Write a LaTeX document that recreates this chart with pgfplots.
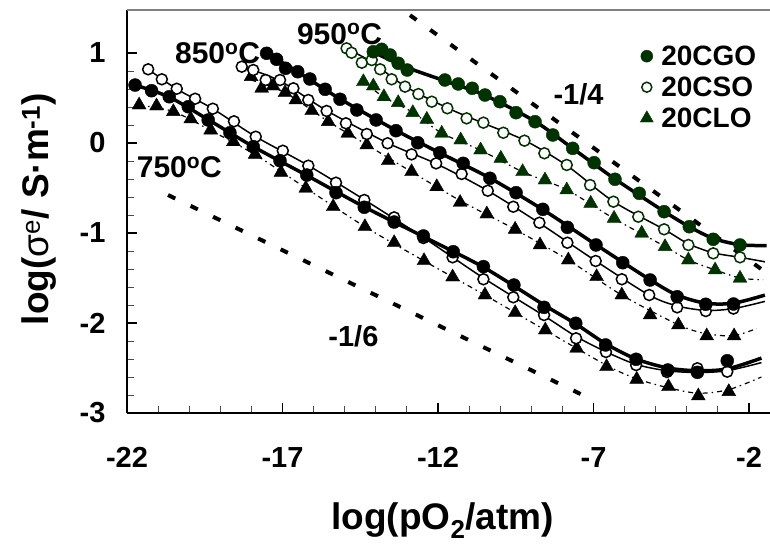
\documentclass[border=0pt]{standalone}
\usepackage{fontspec}
\setmainfont{Liberation Sans}
\usepackage{pgfplots}
\pgfplotsset{compat=1.18}
\definecolor{dkgreen}{RGB}{0,51,0}
\begin{document}
\begin{tikzpicture}
\useasboundingbox (-127pt,-131pt) rectangle (643pt,413pt);
\begin{axis}[
  at={(0pt,0pt)}, anchor=south west,
  scale only axis, width=643pt, height=403pt,
  xmin=-22, xmax=-1.325, ymin=-3, ymax=1.478,
  axis lines*=left,
  axis line style={line width=1.5pt, black},
  tick align=inside,
  xtick={-22,-17,-12,-7,-2}, xticklabels={-22,-17,-12,-7,-2},
  ytick={-3,-2,-1,0,1}, yticklabels={-3,-2,-1,0,1},
  minor x tick num=4, minor y tick num=4,
  major tick length=10pt, minor tick length=7pt,
  major tick style={line width=1.3pt, black},
  minor tick style={line width=1pt, black!70},
  tick label style={font=\fontsize{29}{29}\selectfont\bfseries},
  xticklabel style={yshift=-31pt},
  yticklabel style={xshift=-18pt},
  xlabel={log(pO\textsubscript{2}/atm)},
  xlabel style={at={(axis description cs:0.491,-0.288)}, anchor=base, font=\fontsize{37}{37}\selectfont\bfseries},
  ylabel={log(\textmd{σ\textsuperscript{e}}/ S·m\textsuperscript{-1})},
  ylabel style={at={(axis description cs:-0.1213,0.506)}, anchor=base, font=\fontsize{37}{37}\selectfont\bfseries},
  clip=false,
  legend style={at={(axis description cs:0.798,0.917)}, anchor=north west, draw=none, fill=none,
    font=\fontsize{28}{28}\selectfont\bfseries, row sep=6pt, column sep=6pt, inner sep=0pt, nodes={inner sep=2pt}},
  legend cell align=left,
]
\addlegendimage{only marks, mark=*, mark size=6pt, dkgreen}
\addlegendentry{20CGO}
\addlegendimage{only marks, mark=*, mark size=5pt, mark options={fill=white, draw=dkgreen, line width=1.5pt}}
\addlegendentry{20CSO}
\addlegendimage{only marks, mark=triangle*, mark size=7.5pt, dkgreen}
\addlegendentry{20CLO}

% reference slopes
\addplot[forget plot, black, line width=4pt, dash pattern=on 8pt off 17pt] coordinates {(-12.9,1.42)(-1.49,-1.43)};
\addplot[forget plot, black, line width=4pt, dash pattern=on 8pt off 17pt] coordinates {(-20.68,-0.578)(-7.05,-2.85)};

% ---- 750 C lines
\addplot[forget plot, black, line width=1.2pt, smooth, dash pattern=on 5pt off 4pt on 1.5pt off 4pt] coordinates {(-21.61,0.42)(-20.51,0.35)(-19.31,0.14)(-17.88,-0.13)(-16.25,-0.50)(-14.35,-0.93)(-12.45,-1.31)(-10.49,-1.69)(-8.55,-2.08)(-6.58,-2.47)(-5.61,-2.62)(-4.59,-2.72)(-3.63,-2.78)(-2.65,-2.74)(-1.6,-2.60)};
\addplot[forget plot, black, line width=1.5pt, smooth] coordinates {(-21.32,0.82)(-20.40,0.60)(-19.24,0.38)(-17.86,0.07)(-16.17,-0.25)(-14.37,-0.63)(-12.47,-1.05)(-10.54,-1.50)(-8.59,-1.92)(-7.56,-2.15)(-6.60,-2.32)(-5.63,-2.46)(-4.64,-2.53)(-3.66,-2.55)(-2.70,-2.53)(-1.6,-2.44)};
\addplot[forget plot, black, line width=3.5pt, smooth] coordinates {(-21.74,0.644)(-20.64,0.51)(-19.39,0.26)(-17.94,-0.04)(-16.22,-0.36)(-14.37,-0.71)(-12.47,-1.04)(-10.54,-1.38)(-8.59,-1.80)(-7.57,-2.01)(-6.61,-2.23)(-5.63,-2.40)(-4.61,-2.50)(-3.66,-2.53)(-2.70,-2.51)(-1.6,-2.39)};
% ---- 850 C lines
\addplot[forget plot, black, line width=1.2pt, smooth, dash pattern=on 5pt off 4pt on 1.5pt off 4pt] coordinates {(-18.01,0.70)(-16.92,0.56)(-15.53,0.24)(-14.29,-0.02)(-12.85,-0.32)(-11.29,-0.64)(-9.52,-0.96)(-7.81,-1.30)(-6.09,-1.69)(-4.27,-2.02)(-3.36,-2.12)(-2.48,-2.14)(-1.75,-2.06)};
\addplot[forget plot, black, line width=1.5pt, smooth] coordinates {(-18.31,0.85)(-17.08,0.69)(-15.58,0.36)(-13.62,0.00)(-12.06,-0.23)(-10.40,-0.53)(-8.74,-0.89)(-6.93,-1.31)(-5.21,-1.69)(-4.31,-1.81)(-3.39,-1.86)(-2.50,-1.84)(-1.49,-1.76)};
\addplot[forget plot, black, line width=3.5pt, smooth] coordinates {(-17.51,1.00)(-16.51,0.79)(-15.15,0.49)(-13.35,0.14)(-11.94,-0.11)(-10.33,-0.39)(-8.63,-0.74)(-6.92,-1.13)(-5.18,-1.52)(-4.31,-1.69)(-3.39,-1.78)(-2.50,-1.78)(-1.49,-1.69)};
% ---- 950 C lines
\addplot[forget plot, black, line width=1.2pt, smooth, dash pattern=on 5pt off 4pt on 1.5pt off 4pt] coordinates {(-14.40,0.68)(-13.74,0.51)(-12.81,0.34)(-11.88,0.11)(-10.63,-0.08)(-9.28,-0.32)(-7.86,-0.52)(-6.34,-0.84)(-4.70,-1.15)(-3.95,-1.30)(-3.09,-1.41)(-2.29,-1.50)(-1.55,-1.52)};
\addplot[forget plot, black, line width=1.5pt, smooth] coordinates {(-14.94,1.05)(-14.13,0.90)(-13.06,0.63)(-11.70,0.39)(-10.54,0.22)(-9.22,0.03)(-7.86,-0.25)(-6.36,-0.65)(-4.73,-0.96)(-3.95,-1.12)(-3.15,-1.22)(-2.29,-1.27)(-1.49,-1.32)};
\addplot[forget plot, black, line width=3.5pt, smooth] coordinates {(-14.08,1.01)(-13.0,0.84)(-11.78,0.69)(-10.49,0.53)(-8.88,0.24)(-7.67,-0.06)(-6.31,-0.40)(-4.73,-0.76)(-3.92,-0.93)(-3.15,-1.06)(-2.29,-1.13)(-1.43,-1.14)};

% ---- markers 750
\addplot[forget plot, only marks, mark=triangle*, mark size=8pt, black] coordinates {(-21.61,0.422)(-21.05,0.411)(-20.51,0.348)(-19.95,0.267)(-19.31,0.144)(-18.58,0.014)(-17.88,-0.126)(-17.05,-0.326)(-16.25,-0.503)(-15.37,-0.708)(-14.35,-0.930)(-13.41,-1.108)(-12.45,-1.308)(-11.53,-1.489)(-10.49,-1.689)(-9.52,-1.886)(-8.55,-2.078)(-7.54,-2.281)(-6.58,-2.486)(-5.61,-2.626)(-4.59,-2.708)(-3.63,-2.811)(-2.65,-2.763)};
\addplot[forget plot, only marks, mark=*, mark size=5.5pt, mark options={fill=white, draw=black, line width=1.5pt}] coordinates {(-21.32,0.819)(-20.88,0.708)(-20.40,0.603)(-19.81,0.492)(-19.24,0.381)(-18.56,0.241)(-17.86,0.070)(-16.99,-0.086)(-16.17,-0.252)(-15.28,-0.441)(-14.37,-0.633)(-13.41,-0.826)(-12.47,-1.056)(-11.53,-1.270)(-10.54,-1.514)(-9.58,-1.714)(-8.59,-1.911)(-7.56,-2.170)(-6.60,-2.322)(-5.63,-2.467)(-4.64,-2.544)(-3.66,-2.503)(-2.70,-2.541)};
\addplot[forget plot, only marks, mark=*, mark size=6.5pt, black] coordinates {(-21.74,0.644)(-21.21,0.581)(-20.64,0.514)(-20.03,0.403)(-19.39,0.256)(-18.69,0.114)(-17.94,-0.041)(-17.08,-0.197)(-16.22,-0.356)(-15.28,-0.552)(-14.37,-0.714)(-13.41,-0.878)(-12.47,-1.033)(-11.51,-1.208)(-10.54,-1.374)(-9.56,-1.578)(-8.59,-1.826)(-7.57,-2.003)(-6.61,-2.244)(-5.63,-2.403)(-4.61,-2.522)(-3.66,-2.548)(-2.70,-2.419)};
% ---- markers 850
\addplot[forget plot, only marks, mark=triangle*, mark size=8pt, black] coordinates {(-18.01,0.737)(-17.67,0.608)(-17.30,0.633)(-16.92,0.559)(-16.57,0.478)(-16.06,0.359)(-15.53,0.237)(-14.90,0.108)(-14.29,-0.022)(-13.60,-0.197)(-12.85,-0.319)(-12.04,-0.486)(-11.29,-0.661)(-10.43,-0.789)(-9.52,-0.959)(-8.72,-1.133)(-7.81,-1.300)(-6.90,-1.486)(-6.09,-1.689)(-5.18,-1.911)(-4.27,-2.022)(-3.36,-2.144)(-2.48,-2.144)};
\addplot[forget plot, only marks, mark=*, mark size=5.5pt, mark options={fill=white, draw=black, line width=1.5pt}] coordinates {(-18.31,0.848)(-17.94,0.811)(-17.54,0.700)(-17.08,0.700)(-16.65,0.608)(-16.17,0.478)(-15.58,0.356)(-14.96,0.219)(-14.29,0.100)(-13.62,-0.003)(-12.85,-0.126)(-12.06,-0.226)(-11.24,-0.344)(-10.40,-0.530)(-9.58,-0.708)(-8.74,-0.886)(-7.84,-1.108)(-6.93,-1.311)(-6.09,-1.514)(-5.21,-1.689)(-4.31,-1.826)(-3.39,-1.867)(-2.50,-1.84)};
\addplot[forget plot, only marks, mark=*, mark size=6.5pt, black] coordinates {(-17.51,0.997)(-17.19,0.930)(-16.90,0.830)(-16.51,0.792)(-16.12,0.711)(-15.63,0.597)(-15.15,0.486)(-14.61,0.367)(-13.99,0.256)(-13.35,0.137)(-12.65,0.003)(-11.94,-0.108)(-11.19,-0.226)(-10.33,-0.392)(-9.49,-0.552)(-8.63,-0.737)(-7.84,-0.937)(-6.92,-1.133)(-6.06,-1.330)(-5.18,-1.522)(-4.31,-1.708)(-3.39,-1.792)(-2.50,-1.789)};
% ---- markers 950
\addplot[forget plot, only marks, mark=triangle*, mark size=8pt, dkgreen] coordinates {(-14.40,0.681)(-14.08,0.633)(-13.74,0.514)(-13.28,0.448)(-12.81,0.337)(-12.36,0.263)(-11.88,0.108)(-11.27,0.033)(-10.63,-0.078)(-9.98,-0.170)(-9.28,-0.319)(-8.56,-0.411)(-7.86,-0.522)(-7.09,-0.670)(-6.34,-0.837)(-5.45,-1.003)(-4.70,-1.152)(-3.95,-1.300)(-3.09,-1.411)(-2.29,-1.503)};
\addplot[forget plot, only marks, mark=*, mark size=5.5pt, mark options={fill=white, draw=dkgreen, line width=1.5pt}] coordinates {(-14.94,1.052)(-14.78,1.003)(-14.45,0.892)(-14.13,0.922)(-13.86,0.819)(-13.49,0.708)(-13.06,0.626)(-12.63,0.544)(-12.20,0.459)(-11.70,0.386)(-11.08,0.274)(-10.54,0.226)(-9.90,0.114)(-9.22,0.026)(-8.58,-0.114)(-7.86,-0.244)(-7.11,-0.467)(-6.36,-0.652)(-5.56,-0.819)(-4.73,-0.959)(-3.95,-1.133)(-3.15,-1.226)(-2.29,-1.270)};
\addplot[forget plot, only marks, mark=*, mark size=6.5pt, dkgreen] coordinates {(-14.08,1.014)(-13.81,1.041)(-13.54,0.978)(-13.28,0.886)(-12.99,0.811)(-11.78,0.700)(-11.35,0.656)(-10.90,0.608)(-10.49,0.533)(-10.01,0.459)(-9.49,0.337)(-8.88,0.237)(-8.31,0.089)(-7.67,-0.059)(-6.98,-0.219)(-6.31,-0.403)(-5.53,-0.559)(-4.73,-0.763)(-3.92,-0.930)(-3.15,-1.070)(-2.29,-1.133)};

% frame top line
\draw[gray, line width=1.5pt] (rel axis cs:0,1) -- (rel axis cs:1,1);

% annotations
\node[anchor=base west, inner sep=0pt, font=\fontsize{30}{30}\selectfont\bfseries] at (axis cs:-21.69,-0.378) {750\textsuperscript{o}C};
\node[anchor=base west, inner sep=0pt, font=\fontsize{30}{30}\selectfont\bfseries] at (axis cs:-20.46,0.886) {850\textsuperscript{o}C};
\node[anchor=base west, inner sep=0pt, font=\fontsize{30}{30}\selectfont\bfseries] at (axis cs:-16.54,1.10) {950\textsuperscript{o}C};
\node[anchor=base west, inner sep=0pt, font=\fontsize{29}{29}\selectfont\bfseries] at (axis cs:-8.29,0.43) {-1/4};
\node[anchor=base west, inner sep=0pt, font=\fontsize{29}{29}\selectfont\bfseries] at (axis cs:-15.53,-2.263) {-1/6};
\end{axis}
\end{tikzpicture}
\end{document}
